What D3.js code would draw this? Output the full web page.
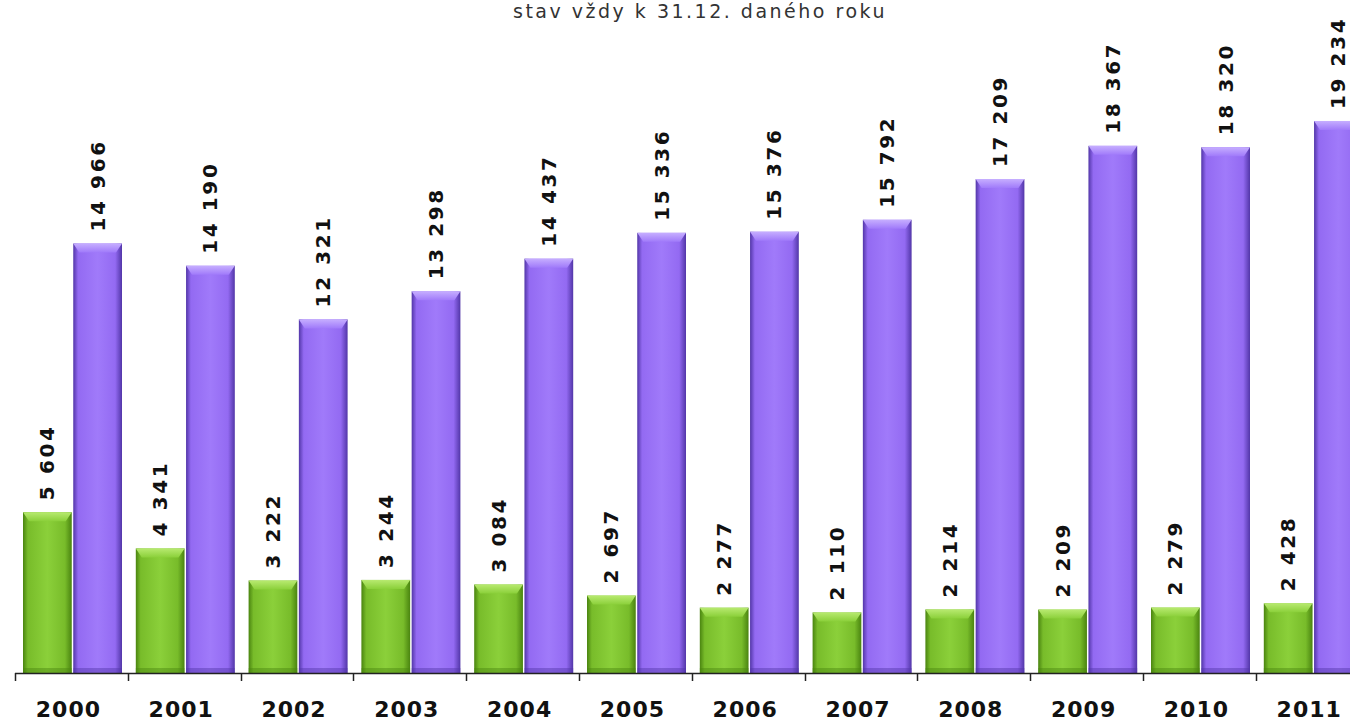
<!DOCTYPE html>
<html>
<head>
<meta charset="utf-8">
<script src="https://cdn.jsdelivr.net/npm/d3@7"></script>
<style>
  body { margin: 0; background: #fff; overflow: hidden; }
  svg { display: block; }
  .val { font-family: "DejaVu Sans", Verdana, sans-serif; font-weight: bold; font-size: 20px; letter-spacing: 2.6px; fill: #111; }
  .yr { font-family: "DejaVu Sans", Verdana, sans-serif; font-weight: bold; font-size: 22px; letter-spacing: 1px; fill: #111; }
  .sub { font-family: "DejaVu Sans", Verdana, sans-serif; font-size: 19px; fill: #333; letter-spacing: 2.5px; }
</style>
</head>
<body>
<svg width="1350" height="724"></svg>
<script>
var years = ["2000", "2001", "2002", "2003", "2004", "2005", "2006", "2007", "2008", "2009", "2010", "2011"];
var greenValues = [5604, 4341, 3222, 3244, 3084, 2697, 2277, 2110, 2214, 2209, 2279, 2428];
var purpleValues = [14966, 14190, 12321, 13298, 14437, 15336, 15376, 15792, 17209, 18367, 18320, 19234];
var seriesKeys = ["green", "purple"];

var svg = d3.select("svg");
var base = 673;

var x = d3.scaleBand().domain(years).range([15, 15 + 12 * 112.8]);
var xs = d3.scaleBand().domain(seriesKeys).range([8, 107]).paddingInner(0.03);
var y = d3.scaleLinear().domain([0, 20000]).range([base, 99]);

var colors = {
  green: { dark: "#4a8410", mid: "#78bc2a", light: "#8bd03a", top: "#b8ea70" },
  purple: { dark: "#5236a8", mid: "#936af2", light: "#a07afa", top: "#c6aeff" }
};

var defs = svg.append("defs");
seriesKeys.forEach(function (k) {
  var c = colors[k];
  var g = defs.append("linearGradient").attr("id", "body-" + k).attr("x1", 0).attr("x2", 1).attr("y1", 0).attr("y2", 0);
  g.append("stop").attr("offset", "0").attr("stop-color", c.dark);
  g.append("stop").attr("offset", "0.1").attr("stop-color", c.mid);
  g.append("stop").attr("offset", "0.5").attr("stop-color", c.light);
  g.append("stop").attr("offset", "0.86").attr("stop-color", c.mid);
  g.append("stop").attr("offset", "1").attr("stop-color", c.dark);
  var t = defs.append("linearGradient").attr("id", "top-" + k).attr("x1", 0).attr("x2", 0).attr("y1", 0).attr("y2", 1);
  t.append("stop").attr("offset", "0").attr("stop-color", c.top);
  t.append("stop").attr("offset", "1").attr("stop-color", c.light);
});

svg.append("text").attr("class", "sub")
  .attr("x", 700).attr("y", 18).attr("text-anchor", "middle")
  .text("stav vždy k 31.12. daného roku");

var rows = [];
years.forEach(function (yr, i) {
  rows.push({ year: yr, key: "green", value: greenValues[i] });
  rows.push({ year: yr, key: "purple", value: purpleValues[i] });
});

var fmt = function (v) { return d3.format(",")(v).replace(/,/g, " "); };

var bars = svg.append("g").selectAll("g").data(rows).enter().append("g")
  .attr("transform", function (d) { return "translate(" + (x(d.year) + xs(d.key)) + ",0)"; });

var bw = xs.bandwidth();

bars.append("rect")
  .attr("x", 0).attr("width", bw)
  .attr("y", function (d) { return y(d.value); })
  .attr("height", function (d) { return base - y(d.value); })
  .attr("fill", function (d) { return "url(#body-" + d.key + ")"; });

// bottom shade
bars.append("rect")
  .attr("x", 0).attr("width", bw)
  .attr("y", base - 5).attr("height", 5)
  .attr("fill", function (d) { return colors[d.key].dark; })
  .attr("opacity", 0.45);

// bevelled top
bars.append("path")
  .attr("d", function (d) {
    var t = y(d.value);
    return "M0," + t + "L" + bw + "," + t + "L" + (bw - 6) + "," + (t + 9) + "L6," + (t + 9) + "Z";
  })
  .attr("fill", function (d) { return "url(#top-" + d.key + ")"; });

bars.append("text").attr("class", "val")
  .attr("transform", function (d) { return "translate(" + (bw / 2 + 7) + "," + (y(d.value) - 12) + ") rotate(-90)"; })
  .text(function (d) { return fmt(d.value); });

// axis
var axis = svg.append("g");
axis.append("line")
  .attr("x1", x.range()[0]).attr("x2", x.range()[1])
  .attr("y1", base + 0.5).attr("y2", base + 0.5)
  .attr("stroke", "#222").attr("stroke-width", 1.5);
axis.selectAll(".tick").data(years).enter().append("line")
  .attr("x1", function (d) { return Math.round(x(d)) + 0.5; })
  .attr("x2", function (d) { return Math.round(x(d)) + 0.5; })
  .attr("y1", base).attr("y2", base + 8)
  .attr("stroke", "#222").attr("stroke-width", 1.5);
axis.selectAll(".yr").data(years).enter().append("text").attr("class", "yr")
  .attr("x", function (d) { return x(d) + x.bandwidth() / 2 - 3; })
  .attr("y", 717).attr("text-anchor", "middle")
  .text(function (d) { return d; });
</script>
</body>
</html>
